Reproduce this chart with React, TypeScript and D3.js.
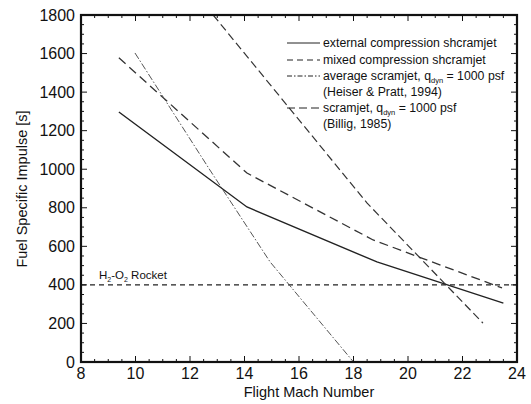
import React from "react";
import * as d3 from "d3";

const xTicks = [8, 10, 12, 14, 16, 18, 20, 22, 24];
const yTicks = [0, 200, 400, 600, 800, 1000, 1200, 1400, 1600, 1800];

const externalMach = [9.39, 14.09, 18.86, 23.5];
const externalIsp = [1297, 804, 519, 305];

const mixedMach = [9.39, 14.09, 18.72, 23.45];
const mixedIsp = [1578, 980, 633, 384];

const heiserMach = [9.98, 12.73, 14.94, 18.0];
const heiserIsp = [1603, 996, 519, 0];

const billigMach = [12.85, 18.5, 22.75];
const billigIsp = [1800, 824, 202];

const rocketIsp = 400;

const W = 531, H = 404;
const L = 81, R = 517, T = 15, B = 362;

export default function App() {
  const x = d3.scaleLinear().domain([8, 24]).range([L, R]);
  const y = d3.scaleLinear().domain([0, 1800]).range([B, T]);
  const line = d3.line<[number, number]>().x(d => x(d[0])).y(d => y(d[1]));
  const zip = (a: number[], b: number[]) => a.map((v, i) => [v, b[i]] as [number, number]);

  const xMinor = d3.range(8, 24.01, 0.5);
  const yMinor = d3.range(0, 1800.1, 50);
  const font = "'Liberation Sans', Arial, Helvetica, sans-serif";

  const legend = [
    { dash: "none", label: ["external compression shcramjet"] },
    { dash: "6,4", label: ["mixed compression shcramjet"] },
    { dash: "5,2,1.5,2", label: ["average scramjet, q", "dyn", " = 1000 psf"], sub: "(Heiser & Pratt, 1994)" },
    { dash: "8,4", label: ["scramjet, q", "dyn", " = 1000 psf"], sub: "(Billig, 1985)" },
  ];
  const legY = [47, 64, 80, 112];

  return (
    <svg width={W} height={H} style={{ display: "block", position: "absolute", left: 0, top: 0, background: "#fff" }} fontFamily={font}>
      <defs>
        <clipPath id="plot"><rect x={L} y={T} width={R - L} height={B - T} /></clipPath>
      </defs>
      <g clipPath="url(#plot)" fill="none" stroke="#222">
        <line x1={L} x2={R} y1={y(rocketIsp)} y2={y(rocketIsp)} strokeDasharray="5,4" strokeWidth={1.1} />
        <path d={line(zip(externalMach, externalIsp))!} strokeWidth={1.4} />
        <path d={line(zip(mixedMach, mixedIsp))!} strokeWidth={1.3} strokeDasharray="9,5" stroke="#333" />
        <path d={line(zip(heiserMach, heiserIsp))!} strokeWidth={1} strokeDasharray="7,2,1.5,2" stroke="#555" />
        <path d={line(zip(billigMach, billigIsp))!} strokeWidth={1.2} strokeDasharray="8,4" stroke="#333" />
      </g>
      {/* ticks */}
      <g stroke="#111" strokeWidth={1}>
        {xMinor.map(v => {
          const major = Math.abs(v % 2) < 1e-6;
          const len = major ? 6 : 3;
          return (
            <g key={"x" + v}>
              <line x1={x(v)} x2={x(v)} y1={B} y2={B - len} />
              <line x1={x(v)} x2={x(v)} y1={T} y2={T + len} />
            </g>
          );
        })}
        {yMinor.map(v => {
          const major = Math.abs(v % 200) < 1e-6;
          const len = major ? 6 : 3;
          return (
            <g key={"y" + v}>
              <line x1={L} x2={L + len} y1={y(v)} y2={y(v)} />
              <line x1={R} x2={R - len} y1={y(v)} y2={y(v)} />
            </g>
          );
        })}
      </g>
      <rect x={L} y={T} width={R - L} height={B - T} fill="none" stroke="#111" strokeWidth={2.2} />
      {/* tick labels */}
      <g fontSize={16} fill="#111">
        {xTicks.map(v => (
          <text key={"xl" + v} x={x(v)} y={B + 17} textAnchor="middle">{v}</text>
        ))}
        {yTicks.map(v => (
          <text key={"yl" + v} x={L - 6} y={y(v) + 5.5} textAnchor="end">{v}</text>
        ))}
      </g>
      <text x={(L + R) / 2 + 10} y={397} textAnchor="middle" fontSize={14.5} fill="#111">Flight Mach Number</text>
      <text transform={`translate(27,189) rotate(-90)`} textAnchor="middle" fontSize={14.5} fill="#111">Fuel Specific Impulse [s]</text>
      {/* rocket label */}
      <text x={99} y={279} fontSize={11.5} fill="#111">
        H<tspan fontSize={7} dy={3}>2</tspan><tspan dy={-3}>-O</tspan><tspan fontSize={7} dy={3}>2</tspan><tspan dy={-3}> Rocket</tspan>
      </text>
      {/* legend */}
      <g fontSize={12.3} fill="#111">
        {legend.map((d, i) => (
          <g key={"lg" + i}>
            <line x1={287} x2={320} y1={legY[i] - 4} y2={legY[i] - 4} stroke="#222" strokeWidth={1} strokeDasharray={d.dash} />
            <text x={323} y={legY[i]}>
              {d.label.length === 1 ? d.label[0] : (
                <>
                  {d.label[0]}<tspan fontSize={7.5} dy={2.5}>{d.label[1]}</tspan><tspan dy={-2.5}>{d.label[2]}</tspan>
                </>
              )}
            </text>
            {d.sub && <text x={323} y={legY[i] + 16}>{d.sub}</text>}
          </g>
        ))}
      </g>
    </svg>
  );
}
